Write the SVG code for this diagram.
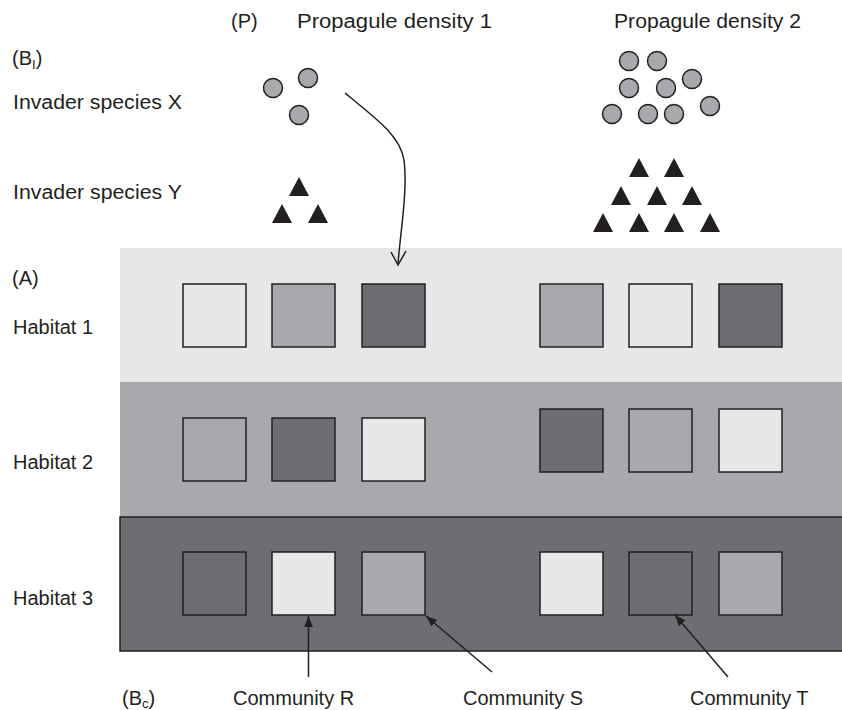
<svg xmlns="http://www.w3.org/2000/svg" width="842" height="710" viewBox="0 0 842 710">
<defs>
<style>
text{font-family:"Liberation Sans",Arial,sans-serif;font-size:20px;fill:#231f20}
.sq{stroke:#231f20;stroke-width:1.5}
.L{fill:#e6e7e8}.M{fill:#a7a9ac}.D{fill:#6d6e71}
.c{fill:#a7a9ac;stroke:#231f20;stroke-width:1.5}
.t{fill:#231f20}
.ln{fill:none;stroke:#231f20;stroke-width:1.5}
</style>
<marker id="ah" viewBox="0 0 10 10" refX="10" refY="5" markerWidth="11" markerHeight="11" markerUnits="userSpaceOnUse" orient="auto">
<path d="M0,1 L10,5 L0,9 Z" fill="#231f20"/>
</marker>
<circle id="cir" r="9.5" class="c"/>
<path id="tri" d="M0,0 L10,19 L-10,19 Z" class="t"/>
</defs>

<g id="habitats">
<rect id="habitat1" x="120" y="248" width="722" height="134" class="L"/>
<rect id="habitat2" x="120" y="382" width="722" height="135" class="M"/>
<rect id="habitat3" x="120" y="517" width="730" height="134" class="D" stroke="#231f20" stroke-width="1.5"/>
</g>

<g id="labels">
<text x="231" y="28">(P)</text>
<text x="297" y="28" textLength="195" lengthAdjust="spacingAndGlyphs">Propagule density 1</text>
<text x="614" y="28" textLength="187" lengthAdjust="spacingAndGlyphs">Propagule density 2</text>
<text x="12" y="65">(B<tspan font-size="13" dy="4">I</tspan><tspan dy="-4">)</tspan></text>
<text x="13" y="109" textLength="169" lengthAdjust="spacingAndGlyphs">Invader species X</text>
<text x="13" y="199" textLength="169" lengthAdjust="spacingAndGlyphs">Invader species Y</text>
<text x="12" y="285">(A)</text>
<text x="13" y="334">Habitat 1</text>
<text x="13" y="469">Habitat 2</text>
<text x="13" y="605">Habitat 3</text>
<text x="122" y="705">(B<tspan font-size="13" dy="3">c</tspan><tspan dy="-3">)</tspan></text>
<text x="233" y="705">Community R</text>
<text x="463" y="705">Community S</text>
<text x="690" y="705">Community T</text>
</g>

<g id="invaderX1">
<use href="#cir" x="273" y="88"/>
<use href="#cir" x="308" y="78"/>
<use href="#cir" x="299" y="115"/>
</g>
<g id="invaderX2">
<use href="#cir" x="629" y="61"/>
<use href="#cir" x="657" y="61"/>
<use href="#cir" x="692" y="79"/>
<use href="#cir" x="629" y="88"/>
<use href="#cir" x="666" y="88"/>
<use href="#cir" x="710" y="106"/>
<use href="#cir" x="612" y="114"/>
<use href="#cir" x="648" y="114"/>
<use href="#cir" x="674" y="114"/>
</g>
<g id="invaderY1">
<use href="#tri" x="299" y="177"/>
<use href="#tri" x="282" y="204"/>
<use href="#tri" x="318" y="204"/>
</g>
<g id="invaderY2">
<use href="#tri" x="639" y="158"/>
<use href="#tri" x="674" y="158"/>
<use href="#tri" x="621" y="186"/>
<use href="#tri" x="657" y="186"/>
<use href="#tri" x="692" y="186"/>
<use href="#tri" x="603" y="213"/>
<use href="#tri" x="639" y="213"/>
<use href="#tri" x="674" y="213"/>
<use href="#tri" x="710" y="213"/>
</g>

<g id="row1">
<rect x="183" y="284" width="63" height="63" class="sq L"/>
<rect x="272" y="284" width="63" height="63" class="sq M"/>
<rect x="362" y="284" width="63" height="63" class="sq D"/>
<rect x="540" y="284" width="63" height="63" class="sq M"/>
<rect x="629" y="284" width="63" height="63" class="sq L"/>
<rect x="719" y="284" width="63" height="63" class="sq D"/>
</g>
<g id="row2">
<rect x="183" y="418" width="63" height="63" class="sq M"/>
<rect x="272" y="418" width="63" height="63" class="sq D"/>
<rect x="362" y="418" width="63" height="63" class="sq L"/>
<rect x="540" y="409" width="63" height="63" class="sq D"/>
<rect x="629" y="409" width="63" height="63" class="sq M"/>
<rect x="719" y="409" width="63" height="63" class="sq L"/>
</g>
<g id="row3">
<rect x="183" y="552" width="63" height="63" class="sq D"/>
<rect x="272" y="552" width="63" height="63" class="sq L"/>
<rect x="362" y="552" width="63" height="63" class="sq M"/>
<rect x="540" y="552" width="63" height="63" class="sq L"/>
<rect x="629" y="552" width="63" height="63" class="sq D"/>
<rect x="719" y="552" width="63" height="63" class="sq M"/>
</g>

<g id="connectors">
<path d="M345,93 C375,118 400,135 404,160 C408,190 400,235 398,264" class="ln" stroke-width="2.2"/>
<path d="M391,252 L398,265 L406,251" class="ln" stroke-width="2.2"/>
<line x1="308.5" y1="677" x2="308.5" y2="616" class="ln" marker-end="url(#ah)"/>
<line x1="492" y1="672" x2="426" y2="616" class="ln" marker-end="url(#ah)"/>
<line x1="728" y1="677" x2="675" y2="615" class="ln" marker-end="url(#ah)"/>
</g>
</svg>
